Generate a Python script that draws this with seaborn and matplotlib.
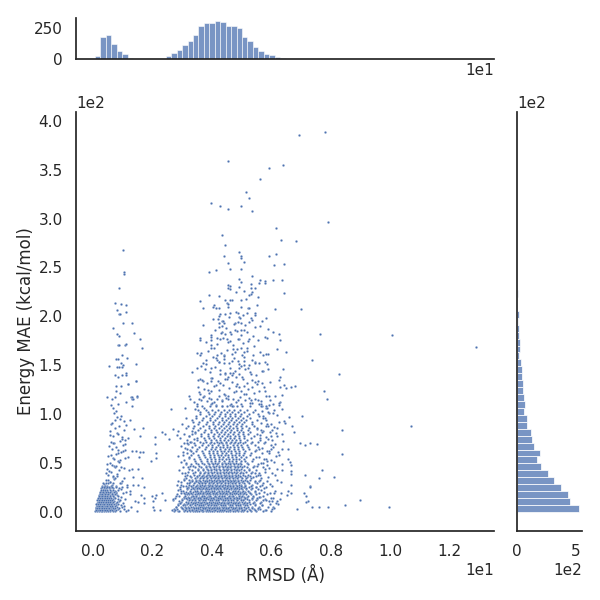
# plot.py
import numpy as np
import pandas as pd
import seaborn as sns
import matplotlib.pyplot as plt

# --- 1. Values ---
# marginal histograms (counts per bin)
rmsd_counts = [27, 180, 196, 124, 67, 43, 5, 4, 3, 0, 3, 3, 3, 27, 51, 75, 116, 148, 196, 269,
               290, 290, 309, 301, 269, 269, 253, 180, 148, 100, 67, 43, 35, 19, 10, 4, 3, 2, 2, 1,
               1, 1, 1, 1, 0, 1, 1, 0, 1, 1, 0, 0, 1, 0, 0, 1, 0, 0, 0, 0,
               0, 0, 0, 0, 0, 0, 0, 0, 0, 1]
mae_counts = [533, 453, 436, 376, 316, 265, 208, 174, 199, 145, 128, 120, 85, 85, 60, 68, 60, 51, 51, 43,
              43, 34, 17, 26, 26, 17, 14, 5, 17, 4, 3, 5, 3, 2, 3, 2, 2, 1, 1, 1,
              2, 1, 1, 1, 0, 1, 1, 0, 1, 0, 1, 0, 1, 0, 1]
rmsd_min, rmsd_max = 0.07, 12.9
mae_min, mae_max = 0.0, 390.0

# sparse points: upper part of the chart and the outliers
sparse_rmsd = [6.93, 7.80, 4.56, 5.91, 6.39, 5.61, 5.14, 5.27, 3.99, 4.29, 4.53, 5.00, 5.37, 7.90, 6.15, 4.33, 6.32, 6.82, 4.43, 1.02,
               4.90, 4.97, 5.00, 5.07, 4.40, 5.91, 6.15, 4.53, 6.08, 6.42, 1.06, 1.06, 4.63, 4.97, 4.13, 3.92, 5.34, 4.90, 5.00, 5.61,
               5.78, 5.78, 5.58, 6.05, 6.35, 4.53, 4.53, 4.63, 4.63, 5.31, 5.31, 5.44, 4.90, 0.89, 5.07, 4.83, 5.37, 5.31, 6.42, 3.89,
               4.23, 5.24, 5.54, 5.15, 5.00, 4.43, 4.60, 4.67, 3.62, 0.75, 0.96, 1.12, 4.50, 4.53, 5.51, 4.06, 4.03, 4.13, 3.69, 4.26,
               4.53, 4.97, 5.21, 5.24, 6.12, 6.99, 0.82, 1.12, 0.89, 0.92, 4.29, 4.46, 4.63, 4.80, 4.87, 5.17, 5.44, 5.47, 5.04, 4.23,
               5.81, 4.03, 4.90, 5.31, 4.36, 4.40, 4.23, 4.77, 4.87, 4.97, 5.27, 5.68, 3.72, 5.00, 5.07, 5.44, 5.61, 5.88, 6.05, 6.25,
               7.63, 10.06, 4.36, 4.23, 4.33, 4.46, 4.60, 4.77, 3.96, 3.99, 3.62, 3.62, 3.79, 4.19, 4.29, 4.50, 4.60, 4.90, 5.27, 5.54,
               5.78, 5.85, 6.28, 12.90, 6.18, 6.49, 3.99, 3.96, 3.49, 3.65, 3.62, 4.70, 5.00, 5.17, 4.77, 5.07, 5.61, 5.81, 5.88, 4.19,
               4.40, 4.40, 4.13, 4.16, 4.67, 4.87, 5.10, 5.37, 5.44, 5.71, 5.78, 5.85, 7.36, 3.69, 3.82, 3.65, 3.96, 3.49, 3.35, 4.40,
               4.26, 4.90, 4.97, 5.10, 5.21, 6.39, 5.88, 5.71, 8.27, 4.29, 4.43, 4.60, 4.67, 4.73, 4.80, 4.53, 5.31, 3.59, 3.52, 3.72,
               3.96, 3.99, 4.29, 4.46, 5.04, 5.44, 5.54, 5.68, 5.95, 6.28, 6.25, 3.55, 4.13, 4.80, 5.07, 5.34, 6.28, 6.42, 6.49, 6.66,
               6.79, 7.77, 3.86, 3.96, 3.59, 3.75, 3.89, 3.96, 4.23, 4.43, 4.56, 4.83, 4.97, 5.14, 5.78, 5.81, 5.91, 6.12, 6.35, 3.25,
               3.28, 7.87, 3.65, 4.09, 4.36, 4.53, 4.70, 4.87, 5.24, 5.31, 5.54, 6.28, 6.25, 6.05, 3.49, 3.49, 3.11, 3.42, 3.75, 3.96,
               4.13, 4.33, 4.60, 4.73, 4.97, 5.34, 5.58, 5.68, 5.81, 2.64, 10.7, 8.4, 8.4, 9.0, 9.95, 7.05, 6.98, 7.15, 7.32, 7.55,
               7.15, 7.62, 7.29, 7.12, 7.18, 7.25, 7.18, 7.39, 6.88, 7.62, 6.58, 6.58, 6.64, 6.68, 6.68, 6.68, 6.37, 6.68, 6.58, 6.68,
               6.54, 6.34, 6.2, 6.04, 6.04, 6.27, 6.07, 6.37, 6.61, 6.48, 6.71, 6.78, 6.37, 6.21, 7.7, 8.1, 7.3, 7.9, 8.5]
sparse_mae = [385, 389, 359, 352, 355, 340, 327, 321, 316, 313, 310, 313, 308, 297, 290, 283, 278, 277, 273, 268,
              266, 262, 260, 256, 262, 262, 264, 255, 253, 254, 245, 243, 248, 248, 247, 245, 241, 238, 235, 237,
              236, 234, 234, 237, 237, 232, 229, 231, 228, 233, 229, 229, 230, 229, 226, 225, 225, 223, 224, 222,
              221, 222, 220, 218, 217, 217, 217, 217, 216, 214, 213, 212, 214, 213, 212, 212, 210, 209, 209, 209,
              210, 210, 209, 209, 208, 208, 207, 204, 202, 202, 202, 202, 203, 204, 203, 203, 203, 201, 201, 200,
              198, 197, 199, 198, 195, 193, 193, 193, 194, 193, 194, 195, 191, 186, 186, 189, 190, 187, 184, 182,
              182, 181, 190, 189, 184, 182, 184, 186, 181, 179, 178, 176, 174, 178, 177, 177, 175, 177, 177, 176,
              179, 178, 176, 169, 167, 164, 171, 168, 163, 163, 161, 167, 168, 168, 164, 164, 164, 162, 162, 161,
              161, 159, 157, 155, 154, 154, 158, 155, 153, 160, 153, 151, 155, 152, 151, 149, 147, 147, 143, 152,
              153, 147, 149, 150, 147, 146, 146, 144, 141, 141, 141, 142, 140, 142, 138, 138, 141, 136, 135, 134,
              137, 134, 132, 136, 136, 133, 134, 132, 133, 138, 135, 128, 130, 129, 129, 128, 128, 130, 127, 128,
              129, 124, 125, 124, 121, 119, 117, 115, 119, 120, 119, 124, 124, 121, 124, 119, 119, 119, 120, 119,
              115, 116, 114, 112, 114, 116, 115, 114, 117, 114, 114, 112, 109, 110, 110, 108, 106, 105, 106, 110,
              109, 108, 109, 108, 110, 111, 110, 108, 106, 105, 88, 84, 59, 12, 5, 98, 70, 68, 71, 69,
              38, 35, 27, 19, 16, 11, 10, 5, 3, 5, 64, 54, 51, 48, 42, 39, 43, 28, 21, 19,
              17, 19, 11, 11, 3, 111, 101, 105, 97, 91, 88, 82, 80, 86, 43, 36, 25, 5, 7]

# left cluster, upper part and stragglers between the two clusters
left_rmsd = [1.02, 1.33, 0.69, 1.39, 0.82, 0.89, 1.60, 0.86, 0.89, 1.09, 1.12, 1.66, 0.99, 1.16, 0.79, 0.86, 0.95, 1.46, 0.55, 0.82,
             0.89, 1.02, 0.99, 0.75, 1.12, 0.86, 0.99, 1.12, 1.46, 1.19, 0.79, 0.96, 0.79, 0.92, 0.48, 0.75, 0.65, 1.29, 1.50, 1.33,
             1.12, 0.86, 0.62, 1.33, 0.69, 1.30, 1.53, 1.36, 1.64, 1.34, 1.53, 1.72, 1.14, 1.25, 1.61, 1.72, 1.42, 1.53, 1.27, 1.47,
             1.73, 1.98, 2.12, 2.01, 2.03, 2.06, 2.26, 2.09, 2.34, 2.43, 1.33, 1.45, 1.59, 1.68, 1.56, 1.39, 1.70, 1.60, 1.45, 1.19,
             1.48, 1.30, 1.34, 1.26, 1.06, 1.19, 1.08, 1.08, 1.08, 1.96, 2.12, 2.12, 2.09, 2.09, 2.34, 2.43, 2.57, 2.69, 2.88, 2.82,
             0.70, 0.80, 0.95, 1.05, 0.62, 0.74, 0.88, 0.56, 0.68, 0.82, 0.98, 0.60, 0.72, 0.90, 1.02, 0.64, 0.78, 0.86, 1.00, 0.50,
             0.66, 0.76, 0.92, 0.58, 0.70, 0.84, 0.96, 0.48, 0.62, 0.74, 0.88, 0.52, 0.66, 0.80, 1.04, 0.44, 0.58, 0.72, 0.94, 0.40,
             0.77, 0.91, 0.63, 1.11, 0.73, 0.85, 0.57, 0.97, 0.67, 1.07, 0.53, 0.83, 0.61, 0.93, 0.71, 1.17, 0.47, 0.87, 0.65, 1.03,
             0.55, 0.79, 0.43, 0.69, 1.21, 0.51, 0.75, 0.99, 0.37, 0.59, 0.81, 1.13, 0.45, 0.63, 0.95, 0.35, 0.57, 0.77, 1.24, 0.41]
left_mae = [193, 193, 188, 183, 182, 180, 177, 171, 171, 171, 172, 168, 161, 157, 156, 156, 152, 151, 149, 148,
            148, 150, 148, 140, 142, 138, 140, 140, 134, 131, 129, 129, 124, 122, 118, 118, 116, 118, 118, 116,
            112, 110, 109, 108, 106, 44, 44, 36, 35, 28, 28, 26, 28, 21, 17, 14, 11, 10, 5, 1,
            9, 16, 17, 11, 5, 2, 2, 14, 19, 12, 62, 62, 61, 61, 56, 85, 86, 78, 134, 131,
            119, 118, 115, 94, 84, 76, 74, 63, 55, 52, 55, 60, 69, 77, 82, 80, 75, 85, 83, 79,
            101, 97, 98, 93, 90, 94, 88, 83, 78, 81, 77, 72, 70, 73, 68, 64, 66, 60, 62, 57,
            55, 59, 53, 50, 47, 52, 46, 44, 41, 46, 43, 38, 36, 39, 35, 33, 31, 34, 30, 27,
            103, 95, 91, 89, 86, 80, 79, 75, 71, 69, 67, 63, 58, 61, 54, 56, 49, 51, 48, 45,
            42, 47, 40, 37, 43, 33, 35, 32, 29, 31, 37, 25, 26, 28, 23, 22, 24, 20, 18, 26]

# flanks of the main cluster and the band around MAE 100-200
flank_rmsd = [2.66, 2.78, 2.85, 2.93, 3.01, 3.09, 2.71, 2.81, 2.89, 2.97, 3.06, 3.15, 2.74, 2.86, 2.94, 3.03, 3.12, 3.21, 2.96, 3.08,
              3.17, 2.83, 3.00, 3.11, 3.23, 2.90, 3.04, 3.19, 2.98, 3.13, 3.26, 2.88, 3.07, 3.22, 3.02, 3.18, 3.31, 2.95, 3.10, 3.28,
              3.05, 3.20, 3.35, 2.92, 3.16, 3.30, 3.08, 3.24, 3.39, 3.12, 3.33, 3.01, 3.21, 3.43, 3.14, 3.37,
              5.55, 5.68, 5.79, 5.91, 6.05, 6.22, 5.62, 5.74, 5.87, 5.98, 6.14, 5.50, 5.66, 5.83, 5.96, 6.10, 6.30, 5.58, 5.71, 5.89,
              6.03, 6.18, 5.46, 5.64, 5.80, 5.94, 6.12, 6.33, 5.52, 5.73, 5.86, 6.01, 6.20, 5.60, 5.77, 5.92, 6.08, 6.26, 5.49, 5.69,
              5.85, 6.00, 6.16, 6.38, 5.56, 5.75, 5.90, 6.06, 6.24, 5.63, 5.81, 5.97, 6.13, 6.35, 5.53, 5.72, 5.88, 6.04, 6.21, 5.67,
              5.84, 5.99, 6.15, 6.40, 5.59, 5.78, 5.93, 6.09, 6.27, 5.70, 5.86, 6.02, 6.19, 6.43, 5.65, 5.82, 5.95, 6.11,
              3.40, 3.56, 3.71, 3.85, 4.02, 4.18, 4.35, 4.49, 4.64, 4.82, 4.95, 5.12, 5.29, 5.47, 5.66, 5.93, 3.58, 3.74, 3.91, 4.07,
              4.26, 4.41, 4.58, 4.74, 4.91, 5.08, 5.22, 5.41, 5.60, 3.67, 3.84, 4.00, 4.21, 4.37, 4.52, 4.69, 4.85, 5.03, 5.19, 5.35,
              5.52, 5.75, 3.77, 3.94, 4.11, 4.27, 4.44, 4.62, 4.78, 4.93, 5.11, 5.28, 5.49, 3.81, 4.05, 4.24, 4.41, 4.59, 4.76, 4.92,
              5.09, 5.25, 5.46, 5.69, 3.88, 4.08, 4.31, 4.51, 4.68, 4.86, 5.02, 5.18, 5.39, 5.59, 3.98, 4.16, 4.38, 4.55, 4.72, 4.88,
              5.06, 5.23, 5.43, 4.10, 4.32, 4.48, 4.66, 4.84, 4.99, 5.20, 5.40, 4.20, 4.39, 4.57, 4.75, 4.94, 5.13, 5.34]
flank_mae = [2, 5, 1, 9, 4, 7, 12, 16, 11, 19, 14, 18, 3, 22, 25, 21, 27, 24, 31, 34,
             30, 28, 40, 37, 33, 43, 46, 41, 51, 49, 47, 57, 53, 55, 61, 60, 58, 67, 65, 63,
             71, 69, 66, 76, 74, 72, 80, 78, 75, 86, 83, 90, 88, 81, 96, 92,
             3, 7, 2, 11, 5, 8, 15, 12, 18, 14, 21, 26, 22, 25, 29, 19, 13, 32, 30, 36,
             27, 33, 40, 38, 41, 45, 38, 31, 47, 50, 48, 53, 44, 56, 54, 60, 51, 58, 63, 65,
             62, 68, 57, 49, 72, 70, 75, 66, 61, 79, 77, 82, 69, 64, 85, 83, 88, 74, 78, 91,
             94, 90, 81, 73, 98, 96, 101, 87, 92, 103, 106, 84, 99, 93, 110, 108, 114, 104,
             112, 115, 118, 113, 111, 116, 113, 117, 110, 112, 118, 114, 111, 116, 113, 109, 123, 126, 122, 129,
             125, 121, 127, 123, 128, 121, 126, 122, 124, 135, 132, 137, 134, 130, 136, 133, 131, 138, 132, 135,
             131, 128, 146, 143, 148, 145, 142, 147, 144, 141, 146, 143, 140, 155, 158, 153, 156, 152, 157, 151,
             154, 150, 152, 144, 165, 168, 163, 166, 162, 167, 161, 165, 160, 152, 176, 172, 178, 174, 171, 177,
             173, 175, 170, 186, 183, 188, 182, 185, 181, 184, 180, 197, 195, 199, 192, 198, 191, 196]

# left cluster, dense foot: one MAE level per row
foot_mae = [1, 3, 5, 7, 9, 11, 13, 15, 17, 19, 21, 24, 27, 30, 2, 4, 6, 8, 10, 12, 14, 16, 18, 20, 22.5, 25.5]
foot_rmsd = [[0.08, 0.14, 0.19, 0.26, 0.31, 0.38, 0.43, 0.51, 0.58, 0.66, 0.74, 0.91, 1.12],
             [0.11, 0.17, 0.23, 0.28, 0.35, 0.41, 0.47, 0.54, 0.62, 0.71, 0.86, 1.04],
             [0.10, 0.18, 0.24, 0.29, 0.33, 0.39, 0.46, 0.52, 0.60, 0.69, 0.82, 0.97],
             [0.15, 0.21, 0.27, 0.34, 0.37, 0.44, 0.50, 0.57, 0.65, 0.78, 0.93],
             [0.14, 0.20, 0.25, 0.31, 0.36, 0.42, 0.48, 0.55, 0.63, 0.76, 1.01],
             [0.19, 0.24, 0.30, 0.35, 0.40, 0.47, 0.53, 0.61, 0.72, 0.89],
             [0.17, 0.23, 0.28, 0.34, 0.39, 0.45, 0.52, 0.59, 0.68, 0.84, 1.08],
             [0.22, 0.27, 0.33, 0.38, 0.44, 0.51, 0.58, 0.70, 0.95],
             [0.21, 0.29, 0.35, 0.41, 0.47, 0.56, 0.66, 0.81],
             [0.24, 0.31, 0.37, 0.45, 0.53, 0.64, 0.77, 1.00],
             [0.26, 0.33, 0.40, 0.49, 0.60, 0.73],
             [0.28, 0.36, 0.44, 0.55, 0.69, 0.87],
             [0.30, 0.39, 0.48, 0.61, 0.79],
             [0.34, 0.43, 0.52, 0.67, 0.92],
             [0.12, 0.16, 0.22, 0.25, 0.32, 0.37, 0.42, 0.49, 0.56, 0.64, 0.79, 1.19],
             [0.09, 0.13, 0.20, 0.27, 0.30, 0.36, 0.44, 0.50, 0.55, 0.67, 0.75, 0.88],
             [0.13, 0.16, 0.22, 0.26, 0.32, 0.40, 0.45, 0.49, 0.58, 0.64, 0.73, 1.06],
             [0.12, 0.18, 0.23, 0.30, 0.35, 0.38, 0.46, 0.53, 0.61, 0.70, 0.85],
             [0.16, 0.22, 0.27, 0.33, 0.39, 0.44, 0.51, 0.59, 0.67, 0.80],
             [0.15, 0.21, 0.26, 0.32, 0.37, 0.43, 0.50, 0.56, 0.65, 0.92],
             [0.18, 0.25, 0.31, 0.36, 0.41, 0.48, 0.54, 0.62, 0.74],
             [0.20, 0.26, 0.30, 0.36, 0.42, 0.49, 0.57, 0.68, 0.86],
             [0.23, 0.27, 0.32, 0.39, 0.46, 0.52, 0.63, 0.75],
             [0.25, 0.29, 0.34, 0.43, 0.50, 0.59, 0.71, 1.10],
             [0.27, 0.35, 0.42, 0.47, 0.57, 0.66, 0.83],
             [0.32, 0.38, 0.46, 0.54, 0.63, 0.78, 0.98]]

# main cluster, dense part: one MAE level per row
core_mae = [1, 3, 5.5, 8, 10.5, 13, 15.5, 18, 20.5, 23, 25.5, 28, 30.5, 33, 35.5, 38, 41, 44, 47, 50,
            54, 58, 62, 66, 70, 74, 78, 82, 86, 90, 94, 98, 102]
core_rmsd = [[2.72, 2.91, 3.05, 3.18, 3.27, 3.36, 3.44, 3.51, 3.58, 3.66, 3.72, 3.79, 3.87, 3.93, 4.02, 4.09, 4.16, 4.24, 4.31, 4.38, 4.47, 4.55, 4.62, 4.71, 4.79, 4.88, 4.97, 5.06, 5.18, 5.33, 5.49, 5.72, 6.01],
             [2.84, 3.02, 3.14, 3.23, 3.33, 3.41, 3.49, 3.55, 3.62, 3.69, 3.76, 3.84, 3.90, 3.98, 4.05, 4.13, 4.20, 4.27, 4.35, 4.43, 4.51, 4.59, 4.67, 4.75, 4.84, 4.93, 5.02, 5.12, 5.26, 5.41, 5.63],
             [2.79, 2.96, 3.10, 3.20, 3.30, 3.38, 3.47, 3.53, 3.60, 3.68, 3.74, 3.81, 3.88, 3.95, 4.03, 4.11, 4.18, 4.25, 4.33, 4.41, 4.49, 4.57, 4.65, 4.73, 4.82, 4.91, 5.00, 5.09, 5.22, 5.37, 5.58, 5.88],
             [2.88, 3.07, 3.16, 3.26, 3.35, 3.43, 3.50, 3.57, 3.64, 3.71, 3.78, 3.85, 3.92, 4.00, 4.07, 4.15, 4.22, 4.29, 4.37, 4.45, 4.53, 4.61, 4.69, 4.77, 4.86, 4.95, 5.04, 5.15, 5.30, 5.45, 5.95],
             [2.95, 3.12, 3.21, 3.31, 3.39, 3.46, 3.54, 3.61, 3.67, 3.75, 3.82, 3.89, 3.96, 4.04, 4.12, 4.19, 4.26, 4.34, 4.42, 4.50, 4.58, 4.66, 4.74, 4.83, 4.92, 5.01, 5.11, 5.24, 5.42, 5.67],
             [2.68, 3.00, 3.17, 3.28, 3.37, 3.45, 3.52, 3.59, 3.65, 3.73, 3.80, 3.86, 3.94, 4.01, 4.08, 4.17, 4.23, 4.32, 4.39, 4.47, 4.56, 4.64, 4.72, 4.81, 4.89, 4.99, 5.08, 5.20, 5.35, 5.52, 5.80],
             [3.05, 3.19, 3.29, 3.40, 3.48, 3.56, 3.63, 3.70, 3.77, 3.83, 3.91, 3.99, 4.06, 4.14, 4.21, 4.30, 4.36, 4.46, 4.54, 4.63, 4.70, 4.80, 4.90, 4.98, 5.07, 5.19, 5.38, 5.60],
             [2.82, 3.09, 3.24, 3.34, 3.42, 3.50, 3.58, 3.66, 3.72, 3.80, 3.87, 3.95, 4.03, 4.10, 4.18, 4.28, 4.35, 4.44, 4.52, 4.60, 4.68, 4.78, 4.87, 4.96, 5.05, 5.16, 5.32, 5.48],
             [3.12, 3.26, 3.36, 3.46, 3.55, 3.62, 3.70, 3.78, 3.84, 3.93, 4.00, 4.08, 4.16, 4.25, 4.33, 4.41, 4.50, 4.59, 4.67, 4.76, 4.85, 4.94, 5.03, 5.13, 5.25, 5.44, 5.75],
             [2.92, 3.15, 3.30, 3.40, 3.51, 3.60, 3.68, 3.76, 3.83, 3.91, 3.98, 4.06, 4.15, 4.22, 4.31, 4.40, 4.48, 4.57, 4.66, 4.75, 4.83, 4.93, 5.02, 5.14, 5.31, 5.55],
             [3.20, 3.33, 3.44, 3.54, 3.63, 3.71, 3.79, 3.88, 3.96, 4.05, 4.12, 4.21, 4.29, 4.38, 4.46, 4.56, 4.64, 4.73, 4.82, 4.92, 5.01, 5.10, 5.27, 5.50],
             [2.98, 3.24, 3.38, 3.49, 3.59, 3.68, 3.77, 3.86, 3.94, 4.02, 4.11, 4.19, 4.27, 4.37, 4.45, 4.54, 4.63, 4.72, 4.81, 4.91, 5.00, 5.12, 5.36, 5.69],
             [3.28, 3.42, 3.53, 3.64, 3.73, 3.82, 3.90, 3.99, 4.09, 4.17, 4.26, 4.36, 4.44, 4.53, 4.62, 4.71, 4.80, 4.90, 5.03, 5.21, 5.46],
             [3.08, 3.35, 3.47, 3.58, 3.69, 3.81, 3.89, 3.97, 4.07, 4.16, 4.24, 4.34, 4.43, 4.52, 4.61, 4.70, 4.79, 4.88, 4.98, 5.11, 5.29, 5.62],
             [3.31, 3.50, 3.65, 3.75, 3.85, 3.94, 4.04, 4.13, 4.23, 4.32, 4.42, 4.51, 4.60, 4.69, 4.78, 4.89, 5.00, 5.18, 5.40],
             [3.16, 3.39, 3.56, 3.72, 3.83, 3.92, 4.02, 4.12, 4.21, 4.31, 4.40, 4.49, 4.58, 4.68, 4.77, 4.87, 5.04, 5.23, 5.57],
             [3.44, 3.61, 3.76, 3.86, 3.97, 4.08, 4.18, 4.28, 4.38, 4.48, 4.57, 4.66, 4.76, 4.86, 4.97, 5.15, 5.34],
             [3.23, 3.52, 3.70, 3.84, 3.96, 4.06, 4.15, 4.26, 4.37, 4.47, 4.56, 4.65, 4.75, 4.85, 5.00, 5.26, 5.78],
             [3.37, 3.57, 3.79, 3.91, 4.03, 4.14, 4.25, 4.35, 4.46, 4.55, 4.64, 4.74, 4.84, 4.95, 5.09, 5.43],
             [3.13, 3.48, 3.67, 3.88, 4.01, 4.11, 4.22, 4.33, 4.43, 4.53, 4.62, 4.73, 4.83, 4.94, 5.17, 5.65],
             [3.40, 3.60, 3.85, 3.99, 4.10, 4.23, 4.36, 4.47, 4.59, 4.71, 4.82, 4.93, 5.08, 5.38, 5.83],
             [3.03, 3.54, 3.74, 3.95, 4.09, 4.20, 4.32, 4.44, 4.55, 4.67, 4.79, 4.91, 5.05, 5.28],
             [3.29, 3.46, 3.68, 3.90, 4.04, 4.17, 4.30, 4.42, 4.53, 4.65, 4.78, 4.90, 5.13, 5.47, 5.92],
             [3.58, 3.81, 4.00, 4.14, 4.27, 4.39, 4.51, 4.63, 4.76, 4.89, 5.02, 5.22, 5.56],
             [3.18, 3.41, 3.71, 3.93, 4.07, 4.24, 4.36, 4.49, 4.61, 4.74, 4.88, 5.06, 5.33],
             [3.50, 3.78, 3.98, 4.13, 4.29, 4.41, 4.54, 4.68, 4.81, 4.96, 5.19, 5.64],
             [3.25, 3.64, 3.87, 4.05, 4.20, 4.34, 4.50, 4.62, 4.77, 4.92, 5.10, 5.42, 5.99],
             [3.45, 3.75, 3.96, 4.16, 4.31, 4.46, 4.60, 4.75, 4.90, 5.04, 5.30, 5.70],
             [3.36, 3.62, 3.89, 4.08, 4.26, 4.42, 4.58, 4.72, 4.86, 5.01, 5.25, 5.53],
             [3.55, 3.82, 4.03, 4.22, 4.39, 4.55, 4.70, 4.85, 5.03, 5.35, 5.86],
             [3.33, 3.68, 3.94, 4.12, 4.33, 4.48, 4.66, 4.81, 4.99, 5.16, 5.51],
             [3.47, 3.80, 4.01, 4.25, 4.43, 4.61, 4.78, 4.95, 5.20, 5.74],
             [3.60, 3.86, 4.10, 4.30, 4.52, 4.69, 4.87, 5.08, 5.39, 5.90]]

# main cluster, in-between levels so the dense part fills in
fill_mae = [2, 4.3, 6.7, 9.2, 11.8, 14.4, 16.6, 19.3, 21.7, 24.2, 26.9, 29.4, 32, 34.3, 36.8, 39.6, 42.5, 45.6, 48.6, 52,
            56, 60, 64, 68, 72, 76, 80, 84, 88, 92, 96, 100, 104, 108]
fill_rmsd = [[2.77, 3.11, 3.22, 3.32, 3.34, 3.48, 3.63, 3.67, 3.83, 3.89, 4.06, 4.12, 4.28, 4.36, 4.40, 4.58, 4.63, 4.80, 4.85, 5.03, 5.10, 5.28, 5.44, 5.83],
             [2.99, 3.13, 3.25, 3.39, 3.46, 3.52, 3.71, 3.77, 3.91, 4.00, 4.08, 4.19, 4.23, 4.39, 4.48, 4.54, 4.70, 4.78, 4.90, 4.98, 5.16, 5.36, 5.55, 6.11],
             [2.86, 3.04, 3.28, 3.42, 3.56, 3.65, 3.70, 3.86, 3.99, 4.06, 4.14, 4.30, 4.37, 4.46, 4.60, 4.68, 4.80, 4.87, 4.94, 5.13, 5.20, 5.47, 5.69],
             [2.94, 3.19, 3.37, 3.45, 3.59, 3.63, 3.80, 3.84, 3.97, 4.10, 4.17, 4.32, 4.40, 4.52, 4.56, 4.72, 4.79, 4.89, 5.07, 5.17, 5.40, 5.61, 6.16],
             [3.01, 3.25, 3.33, 3.44, 3.57, 3.70, 3.78, 3.93, 4.02, 4.15, 4.21, 4.37, 4.45, 4.53, 4.64, 4.70, 4.85, 4.97, 5.05, 5.27, 5.50, 5.82],
             [2.75, 3.14, 3.22, 3.41, 3.54, 3.61, 3.75, 3.82, 3.98, 4.03, 4.20, 4.27, 4.43, 4.51, 4.62, 4.76, 4.84, 4.93, 5.12, 5.34, 5.53, 6.06],
             [2.90, 3.10, 3.32, 3.38, 3.47, 3.66, 3.74, 3.90, 3.95, 4.11, 4.24, 4.33, 4.41, 4.57, 4.67, 4.73, 4.91, 5.02, 5.21, 5.39, 5.71],
             [3.06, 3.21, 3.31, 3.53, 3.60, 3.69, 3.85, 3.92, 4.05, 4.13, 4.29, 4.38, 4.49, 4.61, 4.74, 4.83, 4.95, 5.09, 5.29, 5.59, 5.96],
             [2.97, 3.27, 3.43, 3.50, 3.64, 3.79, 3.87, 4.01, 4.09, 4.23, 4.34, 4.47, 4.55, 4.70, 4.78, 4.88, 5.06, 5.23, 5.46],
             [3.17, 3.36, 3.49, 3.58, 3.72, 3.81, 3.96, 4.07, 4.18, 4.27, 4.42, 4.52, 4.64, 4.77, 4.86, 5.00, 5.15, 5.37, 5.77],
             [3.04, 3.29, 3.46, 3.61, 3.74, 3.89, 4.00, 4.14, 4.26, 4.35, 4.50, 4.60, 4.71, 4.84, 4.97, 5.11, 5.33, 5.63],
             [3.22, 3.40, 3.56, 3.67, 3.78, 3.92, 4.03, 4.19, 4.30, 4.43, 4.56, 4.69, 4.79, 4.92, 5.07, 5.24, 5.52],
             [2.87, 3.32, 3.48, 3.62, 3.76, 3.85, 4.01, 4.15, 4.28, 4.39, 4.54, 4.66, 4.76, 4.88, 5.04, 5.19, 5.44, 5.87],
             [3.14, 3.43, 3.59, 3.70, 3.84, 3.97, 4.10, 4.22, 4.36, 4.47, 4.59, 4.72, 4.86, 5.01, 5.14, 5.32, 5.67],
             [3.26, 3.51, 3.66, 3.80, 3.93, 4.06, 4.20, 4.31, 4.44, 4.58, 4.69, 4.82, 4.96, 5.12, 5.28, 5.49],
             [3.09, 3.38, 3.60, 3.73, 3.88, 4.00, 4.16, 4.29, 4.40, 4.54, 4.67, 4.81, 4.94, 5.06, 5.31, 5.60, 6.02],
             [3.34, 3.55, 3.71, 3.87, 3.99, 4.13, 4.27, 4.41, 4.52, 4.66, 4.80, 4.91, 5.07, 5.24, 5.48],
             [3.19, 3.45, 3.63, 3.82, 3.94, 4.09, 4.24, 4.38, 4.50, 4.63, 4.77, 4.89, 5.02, 5.18, 5.39, 5.73],
             [3.30, 3.53, 3.74, 3.92, 4.05, 4.18, 4.34, 4.48, 4.60, 4.74, 4.87, 5.00, 5.21, 5.54],
             [3.42, 3.65, 3.83, 3.97, 4.12, 4.26, 4.40, 4.57, 4.68, 4.82, 4.97, 5.11, 5.36, 5.85],
             [3.24, 3.56, 3.77, 3.94, 4.08, 4.25, 4.38, 4.53, 4.67, 4.83, 4.98, 5.16, 5.50],
             [3.38, 3.69, 3.89, 4.04, 4.19, 4.33, 4.49, 4.64, 4.80, 4.92, 5.09, 5.32, 5.68],
             [3.15, 3.51, 3.76, 3.97, 4.11, 4.28, 4.45, 4.59, 4.75, 4.88, 5.04, 5.26, 5.58, 6.00],
             [3.44, 3.66, 3.86, 4.02, 4.21, 4.37, 4.52, 4.70, 4.85, 5.00, 5.18, 5.45],
             [3.27, 3.59, 3.82, 3.99, 4.17, 4.32, 4.47, 4.65, 4.79, 4.94, 5.12, 5.37, 5.79],
             [3.49, 3.73, 3.92, 4.09, 4.28, 4.44, 4.60, 4.76, 4.93, 5.07, 5.31, 5.61],
             [3.35, 3.63, 3.88, 4.06, 4.23, 4.40, 4.56, 4.71, 4.89, 5.05, 5.23, 5.52],
             [3.52, 3.77, 3.97, 4.15, 4.35, 4.51, 4.66, 4.84, 5.00, 5.22, 5.66],
             [3.41, 3.70, 3.91, 4.11, 4.30, 4.47, 4.63, 4.80, 4.98, 5.14, 5.43, 5.84],
             [3.57, 3.84, 4.04, 4.24, 4.41, 4.57, 4.74, 4.91, 5.10, 5.36],
             [3.46, 3.72, 3.95, 4.18, 4.36, 4.54, 4.69, 4.88, 5.06, 5.29, 5.72],
             [3.62, 3.90, 4.07, 4.27, 4.45, 4.62, 4.79, 4.99, 5.26, 5.57],
             [3.53, 3.79, 4.02, 4.21, 4.42, 4.59, 4.76, 4.94, 5.17, 5.46],
             [3.66, 3.93, 4.14, 4.33, 4.50, 4.67, 4.86, 5.02, 5.30, 5.65]]

# --- 2. Build the tables ---
scatter_df = pd.DataFrame({
    'RMSD': sparse_rmsd + left_rmsd + flank_rmsd
            + [x for row in foot_rmsd for x in row]
            + [x for row in core_rmsd for x in row]
            + [x for row in fill_rmsd for x in row],
    'MAE': sparse_mae + left_mae + flank_mae
           + [m for m, row in zip(foot_mae, foot_rmsd) for _ in row]
           + [m for m, row in zip(core_mae, core_rmsd) for _ in row]
           + [m for m, row in zip(fill_mae, fill_rmsd) for _ in row],
})
rmsd_edges = np.linspace(rmsd_min, rmsd_max, len(rmsd_counts) + 1)
mae_edges = np.linspace(mae_min, mae_max, len(mae_counts) + 1)
rmsd_centers = (rmsd_edges[:-1] + rmsd_edges[1:]) / 2
mae_centers = (mae_edges[:-1] + mae_edges[1:]) / 2

# --- 3. Joint grid ---
sns.set_theme(style="white")
g = sns.JointGrid(height=6, marginal_ticks=True)
sns.scatterplot(data=scatter_df, x='RMSD', y='MAE', s=3, ax=g.ax_joint)
sns.histplot(x=rmsd_centers, weights=rmsd_counts, bins=len(rmsd_counts),
             binrange=(rmsd_min, rmsd_max), ax=g.ax_marg_x)
sns.histplot(y=mae_centers, weights=mae_counts, bins=len(mae_counts),
             binrange=(mae_min, mae_max), ax=g.ax_marg_y)

g.ax_joint.set_xlim(-0.57, 13.5)
g.ax_joint.set_ylim(-19.5, 409)
g.ax_joint.set_xticks([0, 2, 4, 6, 8, 10, 12])
g.ax_joint.set_yticks([0, 50, 100, 150, 200, 250, 300, 350, 400])
g.ax_marg_x.set_ylim(0, 330)
g.ax_marg_x.set_yticks([0, 250])
g.ax_marg_y.set_xlim(0, 558)
g.ax_marg_y.set_xticks([0, 500])
g.ax_joint.set_xlabel('RMSD (Å)', fontsize=12, labelpad=4.7)
g.ax_joint.set_ylabel('Energy MAE (kcal/mol)', fontsize=12, labelpad=2.5)
g.ax_marg_x.set_ylabel('')
g.ax_marg_y.set_xlabel('')

g.ax_joint.ticklabel_format(style='sci', axis='both', scilimits=(0, 0))
g.ax_marg_y.ticklabel_format(style='sci', axis='x', scilimits=(0, 0))
g.ax_marg_x.xaxis.get_offset_text().set_visible(True)
g.ax_marg_y.yaxis.get_offset_text().set_visible(True)

g.ax_joint.set_position([76 / 600, 69 / 600, 418 / 600, 419 / 600])
g.ax_marg_x.set_position([76 / 600, 541 / 600, 418 / 600, 41 / 600])
g.ax_marg_y.set_position([517 / 600, 69 / 600, 65 / 600, 419 / 600])

# --- 4. Save ---
g.figure.set_size_inches(6, 6)
g.figure.savefig('out.png', dpi=100)
plt.close()
